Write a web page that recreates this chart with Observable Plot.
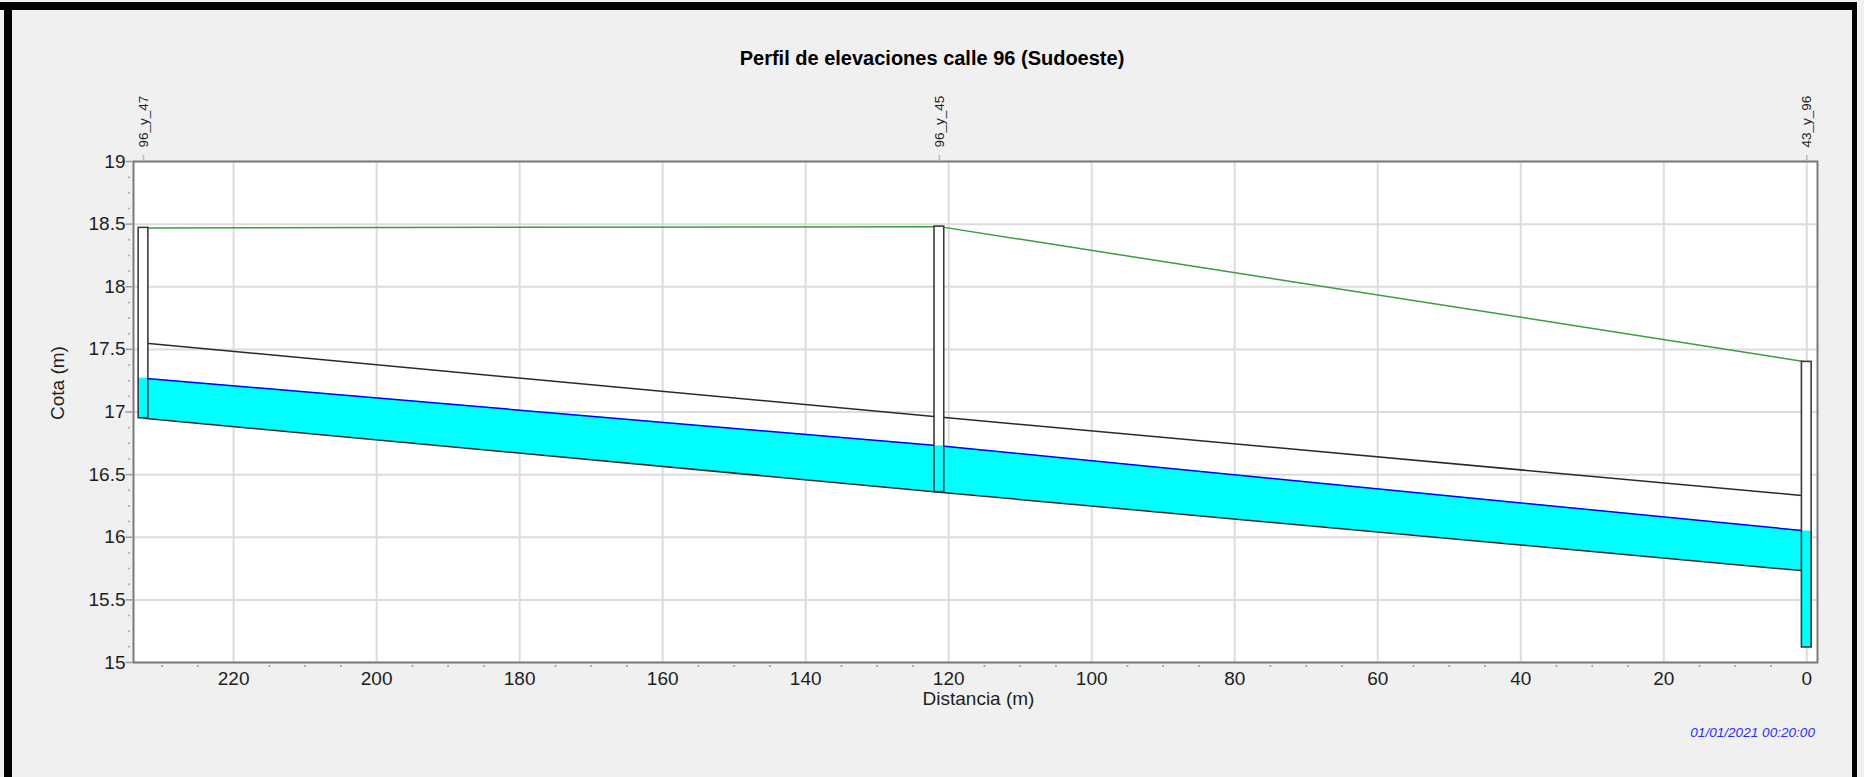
<!DOCTYPE html>
<html>
<head>
<meta charset="utf-8">
<script src="https://cdn.jsdelivr.net/npm/d3@7"></script>
<script src="https://cdn.jsdelivr.net/npm/@observablehq/plot@0.6"></script>
<style>
html, body { margin: 0; padding: 0; background: #f0f0f0; }
#wrap { position: relative; width: 1864px; height: 777px; background: #f0f0f0; overflow: hidden;
  font-family: "Liberation Sans", Arial, sans-serif; }
.bt { position: absolute; left: 0; top: 2px; width: 1857px; height: 8px; background: #000; }
.bl { position: absolute; left: 4px; top: 2px; width: 8px; height: 775px; background: #000; }
.br { position: absolute; left: 1852px; top: 2px; width: 5px; height: 775px; background: #000; }
#title { position: absolute; left: 0; top: 48px; width: 1864px; text-align: center; font-weight: bold;
  font-size: 20px; line-height: 20px; color: #000; }
#chart { position: absolute; left: 0; top: 80px; }
#caption { position: absolute; right: 49px; top: 725px; font-style: italic; font-size: 13.6px;
  line-height: 16px; color: #2a2aff; }
</style>
</head>
<body>
<div id="wrap">
  <div class="bt"></div><div class="bl"></div><div class="br"></div>
  <div id="title">Perfil de elevaciones calle 96 (Sudoeste)</div>
  <div id="chart"></div>
  <div id="caption">01/01/2021 00:20:00</div>
</div>
<script>
// ---- Data ----
const nodeNames = ["96_y_47", "96_y_45", "43_y_96"];
const nodeDist = [232.6, 121.3, 0];          // distance along profile (m)
const nodeTop = [18.47, 18.48, 17.40];       // ground / manhole rim elevation (m)
const nodeBottom = [16.95, 16.36, 15.12];    // manhole invert (m)
const nodeWater = [17.27, 16.73, 16.05];     // water level in manhole (m)

const pipeNames = ["96_y_47-96_y_45", "96_y_45-43_y_96"];
const pipeUpIdx = [0, 1];
const pipeDownIdx = [1, 2];
const pipeInvUp = [16.95, 16.36];
const pipeInvDown = [16.36, 15.73];
const pipeCrownUp = [17.55, 16.96];
const pipeCrownDown = [16.96, 16.33];
const pipeWaterUp = [17.27, 16.73];
const pipeWaterDown = [16.73, 16.05];

const xTicks = [0, 20, 40, 60, 80, 100, 120, 140, 160, 180, 200, 220];
const yTicks = [15, 15.5, 16, 16.5, 17, 17.5, 18, 18.5, 19];
const xMinor = d3.range(5, 235, 5).filter(v => v % 20 !== 0);
const yMinor = d3.range(15.125, 19, 0.125).filter(v => (v * 2) % 1 !== 0);

// ---- Tables ----
const nodes = nodeNames.map((name, i) => ({
  name, dist: nodeDist[i], top: nodeTop[i], bottom: nodeBottom[i], water: nodeWater[i]
}));
const pipePts = [];
pipeNames.forEach((p, i) => {
  pipePts.push({pipe: p, x: nodeDist[pipeUpIdx[i]], inv: pipeInvUp[i], crown: pipeCrownUp[i], water: pipeWaterUp[i]});
  pipePts.push({pipe: p, x: nodeDist[pipeDownIdx[i]], inv: pipeInvDown[i], crown: pipeCrownDown[i], water: pipeWaterDown[i]});
});

// custom tick symbols
const hDash = {draw(ctx, size) { const r = Math.sqrt(size / Math.PI); ctx.moveTo(-r, 0); ctx.lineTo(r, 0); }};
const vDash = {draw(ctx, size) { const r = Math.sqrt(size / Math.PI); ctx.moveTo(0, -r); ctx.lineTo(0, r); }};

const mhHalf = 0.68;
const font = "'Liberation Sans', Arial, sans-serif";
const txt = "#1e1e1e";

const chart = Plot.plot({
  width: 1864,
  height: 640,
  marginLeft: 133,
  marginRight: 47,
  marginTop: 81,
  marginBottom: 58,
  style: {fontFamily: font, background: "transparent", overflow: "visible"},
  x: {domain: [234, -1.5], axis: null},
  y: {domain: [15, 19], axis: null},
  marks: [
    Plot.frame({fill: "white"}),
    Plot.ruleX(xTicks, {x: d => d, stroke: "#dcdcdc", strokeWidth: 2}),
    Plot.ruleY(yTicks, {y: d => d, stroke: "#dcdcdc", strokeWidth: 2}),
    // water in pipes
    Plot.areaY(pipePts, {x: "x", y1: "inv", y2: "water", z: "pipe", fill: "#00ffff", fillOpacity: 1}),
    Plot.line(pipePts, {x: "x", y: "water", z: "pipe", stroke: "#0000ff", strokeWidth: 1.5}),
    Plot.line(pipePts, {x: "x", y: "crown", z: "pipe", stroke: "#2a2a2a", strokeWidth: 1.5}),
    Plot.line(pipePts, {x: "x", y: "inv", z: "pipe", stroke: "#2a2a2a", strokeWidth: 1.5}),
    // ground
    Plot.line(nodes, {x: "dist", y: "top", stroke: "#3c9c3c", strokeWidth: 1.5}),
    // manholes
    Plot.rect(nodes, {x1: d => d.dist + mhHalf, x2: d => d.dist - mhHalf, y1: "bottom", y2: "top", fill: "white"}),
    Plot.rect(nodes, {x1: d => d.dist + mhHalf, x2: d => d.dist - mhHalf, y1: "bottom", y2: "water", fill: "#00ffff"}),
    Plot.rect(nodes, {x1: d => d.dist + mhHalf, x2: d => d.dist - mhHalf, y1: "bottom", y2: "top", fill: "none", stroke: "#3a3a3a", strokeWidth: 1.6}),
    Plot.frame({stroke: "#7a7a7a", strokeWidth: 2}),
    // y axis
    Plot.dot(yTicks, {y: d => d, frameAnchor: "left", dx: -4.5, r: 3.5, symbol: hDash, stroke: "#9a9a9a", strokeWidth: 1.5, fill: "none"}),
    Plot.dot(yMinor, {y: d => d, frameAnchor: "left", dx: -4.5, r: 1, fill: "#a8a8a8", stroke: "none"}),
    Plot.text(yTicks, {y: d => d, text: d => String(d), frameAnchor: "left", textAnchor: "end", dx: -8, fontSize: 19, fill: txt}),
    // x axis
    Plot.dot(xMinor, {x: d => d, frameAnchor: "bottom", dy: 3.5, r: 1.1, fill: "#a0a0a0", stroke: "none"}),
    Plot.text(xTicks, {x: d => d, text: d => String(d), frameAnchor: "bottom", lineAnchor: "top", dy: 9, fontSize: 19, fill: txt}),
    // node labels on top
    Plot.dot(nodes, {x: "dist", frameAnchor: "top", dy: -3.5, r: 3, symbol: vDash, stroke: "#b8b8b8", strokeWidth: 1.5, fill: "none"}),
    Plot.text(nodes, {x: "dist", text: "name", frameAnchor: "top", rotate: -90, textAnchor: "start", dx: -5, dy: -14, fontSize: 13.5, fill: "#222"}),
    // axis labels
    Plot.text(["Cota (m)"], {text: d => d, frameAnchor: "left", rotate: -90, dx: -76, dy: 8, fontSize: 19, fill: txt}),
    Plot.text(["Distancia (m)"], {text: d => d, frameAnchor: "bottom", dx: 3, dy: 42, fontSize: 19, fill: txt})
  ]
});
document.getElementById("chart").appendChild(chart);
</script>
</body>
</html>
